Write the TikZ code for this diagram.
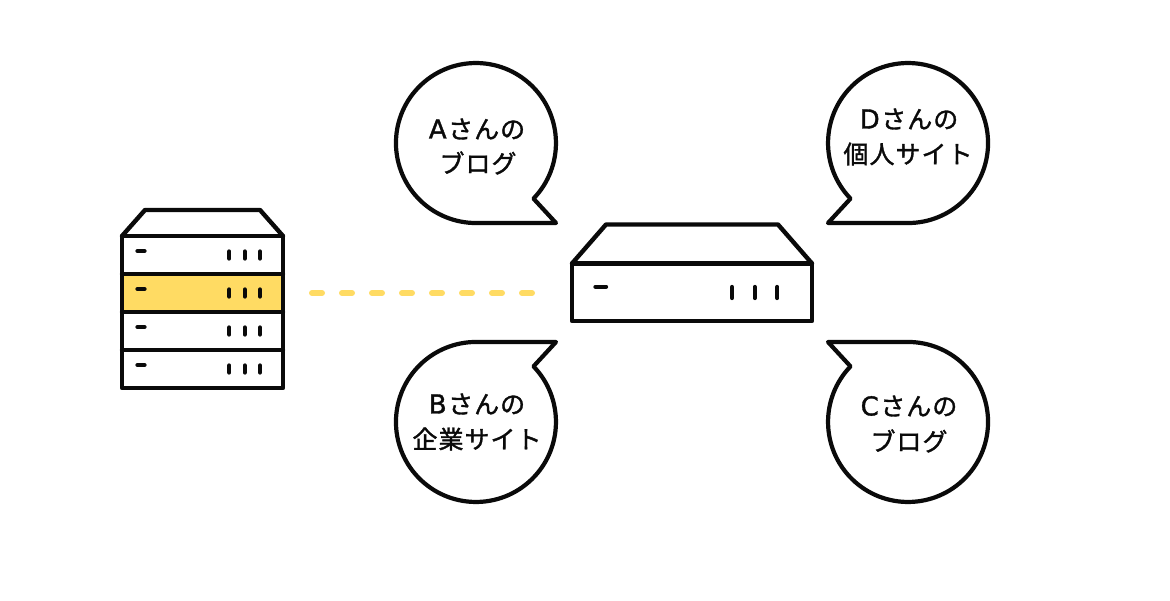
\documentclass[tikz,border=0pt]{standalone}
\usepackage{fontspec}
\newfontfamily\jpfont[LetterSpace=4,FakeBold=1.4]{Noto Sans CJK JP}
\newfontfamily\latinfont[FakeBold=1.4]{DejaVu Sans}
\newcommand{\capletter}[1]{{\latinfont\fontsize{26}{26}\selectfont #1}\hspace{1.5pt}}
\definecolor{ink}{HTML}{0A0A0A}
\definecolor{hl}{HTML}{FFDB63}
\tikzset{
  outline/.style={draw=ink,line width=4.4pt,line join=round,line cap=round},
  tick/.style={draw=ink,line width=4.3pt,line cap=round},
  label/.style={font=\jpfont\fontsize{25}{25}\selectfont,text=ink,inner sep=0pt,anchor=center},
  link/.style={draw=hl,line width=6pt,line cap=round,dash pattern=on 10pt off 20pt},
  pics/bubble/.style={code={
    \draw[outline,line width=4.2pt] (0,-80) -- (80,-80) -- (57.5,-55.6) arc[start angle=-44,end angle=270,radius=80] -- cycle;
  }},
  pics/slot/.style={code={
    \draw[tick] (137.5,0) -- (144.5,0);
    \draw[tick] (229.3,-0.5) -- (229.3,-7.5) (244.7,-0.5) -- (244.7,-7.5) (260,-0.5) -- (260,-7.5);
  }}
}
\begin{document}
\begin{tikzpicture}[x=1pt,y=1pt]
\useasboundingbox (0,0) rectangle (1170,600);
% rack
\fill[hl] (122,326) rectangle (283,288);
\draw[outline] (122,364) -- (145,390) -- (260,390) -- (283,364);
\draw[outline] (122,364) rectangle (283,212);
\draw[outline] (122,326) -- (283,326) (122,288) -- (283,288) (122,250) -- (283,250);
\pic at (0,349) {slot};
\pic at (0,311) {slot};
\pic at (0,273) {slot};
\pic at (0,235) {slot};
% router
\draw[outline] (572,336.5) -- (606,375.5) -- (778,375.5) -- (812,336.5);
\draw[outline] (572,336.5) rectangle (812,279);
\draw[tick] (595.5,313.3) -- (606,313.3);
\draw[tick] (732,313) -- (732,302) (754.7,313) -- (754.7,302) (777.3,313) -- (777.3,302);
% link
\coordinate (linkstart) at (312,307);
\coordinate (linkend) at (533,307);
\draw[link] (linkstart) -- (linkend);
% bubbles
\pic at (476,457) {bubble};
\pic[xscale=-1] at (908,457) {bubble};
\pic[yscale=-1] at (476,178) {bubble};
\pic[xscale=-1,yscale=-1] at (908,178) {bubble};
% labels
\node[label] (a1) at (477,471) {\capletter{A}さんの};
\node[label] (a2) at (478,437) {ブログ};
\node[label] (d1) at (909,481) {\capletter{D}さんの};
\node[label] (d2) at (908,446) {個人サイト};
\node[label] (b1) at (477,196) {\capletter{B}さんの};
\node[label] (b2) at (477,161) {企業サイト};
\node[label] (c1) at (909,194) {\capletter{C}さんの};
\node[label] (c2) at (909,159) {ブログ};
\end{tikzpicture}
\end{document}
